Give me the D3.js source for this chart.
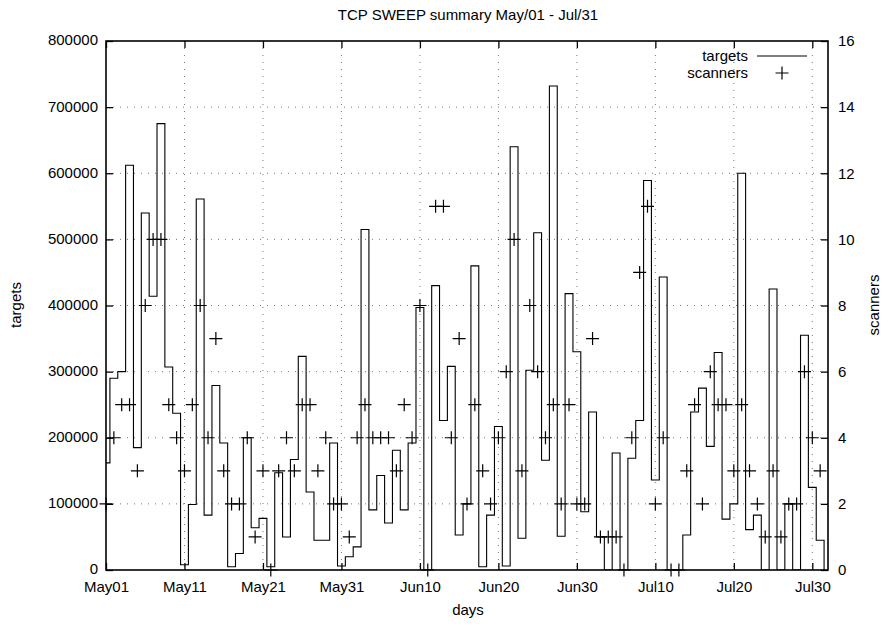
<!DOCTYPE html>
<html>
<head>
<meta charset="utf-8">
<script src="https://cdn.jsdelivr.net/npm/d3@7"></script>
<style>
body { margin: 0; background: #fff; }
</style>
</head>
<body>
<script>
// daily values, May01 (day 0) .. Jul31 (day 91)
var targets = [
  162000, 290000, 300000, 612000, 185000, 540000, 414000, 675000, 307000, 237000,
  8000, 99000, 561000, 83000, 279000, 192000, 5000, 25000, 200000, 64000,
  78000, 5000, 147000, 50000, 167000, 323000, 118000, 45000, 45000, 192000,
  6000, 20000, 35000, 515000, 91000, 143000, 71000, 181000, 91000, 192000,
  397000, 0, 430000, 226000, 308000, 53000, 100000, 460000, 5000, 83000,
  217000, 6000, 640000, 48000, 302000, 510000, 166000, 732000, 51000, 418000,
  330000, 88000, 239000, 50000, 0, 177000, 0, 169000, 226000, 589000,
  136000, 443000, 0, 0, 53000, 239000, 275000, 187000, 329000, 77000,
  100000, 600000, 61000, 83000, 0, 425000, 0, 100000, 0, 355000,
  125000, 45000
];
var scanners = [
  2, 4, 5, 5, 3, 8, 10, 10, 5, 4,
  3, 5, 8, 4, 7, 3, 2, 2, 4, 1,
  3, 0, 3, 4, 3, 5, 5, 3, 4, 2,
  2, 1, 4, 5, 4, 4, 4, 3, 5, 4,
  8, 0, 11, 11, 4, 7, 2, 5, 3, 2,
  4, 6, 10, 3, 8, 6, 4, 5, 2, 5,
  2, 2, 7, 1, 1, 1, 0, 4, 9, 11,
  2, 4, 0, 0, 3, 5, 2, 6, 5, 5,
  3, 5, 3, 2, 1, 3, 1, 2, 2, 6,
  4, 3
];
var tickDays = [0, 10, 20, 30, 40, 50, 60, 70, 80, 90];
var tickLabels = ["May01", "May11", "May21", "May31", "Jun10", "Jun20", "Jun30", "Jul10", "Jul20", "Jul30"];
var yTicks = [0, 100000, 200000, 300000, 400000, 500000, 600000, 700000, 800000];
var y2Ticks = [0, 2, 4, 6, 8, 10, 12, 14, 16];

var W = 891, H = 625;
var L = 106, R = 828, T = 41, B = 570;

var svg = d3.select("body").append("svg")
  .attr("width", W)
  .attr("height", H)
  .style("font-family", "'Liberation Sans', Arial, Helvetica, sans-serif")
  .style("font-size", "15px");

var x = d3.scaleLinear().domain([0, targets.length]).range([L, R]);
var y = d3.scaleLinear().domain([0, 800000]).range([B, T]);
var y2 = d3.scaleLinear().domain([0, 16]).range([B, T]);

// dotted grid (faint, like the scan)
var grid = svg.append("g")
  .attr("stroke", "#777")
  .attr("stroke-width", 1)
  .attr("stroke-dasharray", "1,6");
grid.selectAll(".gx").data(tickDays.slice(1)).enter().append("line")
  .attr("x1", d => x(d)).attr("x2", d => x(d))
  .attr("y1", T).attr("y2", B);
grid.selectAll(".gy").data(yTicks.slice(1, -1)).enter().append("line")
  .attr("x1", L).attr("x2", R)
  .attr("y1", d => y(d)).attr("y2", d => y(d));

// axes, ticks pointing inward like gnuplot
function styleAxis(g) {
  g.select(".domain").remove();
  g.selectAll(".tick line").attr("stroke", "#000").attr("stroke-width", 1.3);
  g.selectAll(".tick text").attr("fill", "#000").style("font-size", "15px")
    .style("font-family", "'Liberation Sans', Arial, Helvetica, sans-serif");
}

svg.append("g").attr("transform", "translate(" + L + ",0)")
  .call(d3.axisLeft(y).tickValues(yTicks).tickFormat(d3.format("d")).tickSize(-7).tickPadding(8))
  .call(styleAxis)
  .call(g => g.selectAll(".tick text").attr("dy", "0.26em"));

svg.append("g").attr("transform", "translate(" + R + ",0)")
  .call(d3.axisRight(y2).tickValues(y2Ticks).tickSize(-7).tickPadding(10))
  .call(styleAxis);

svg.append("g").attr("transform", "translate(0," + B + ")")
  .call(d3.axisBottom(x).tickValues(tickDays).tickFormat((d, i) => tickLabels[i]).tickSize(-7).tickPadding(11))
  .call(styleAxis);

svg.append("g").attr("transform", "translate(0," + T + ")")
  .call(d3.axisTop(x).tickValues(tickDays).tickFormat("").tickSize(-7))
  .call(styleAxis);

// targets as histeps
svg.append("clipPath").attr("id", "plotclip")
  .append("rect").attr("x", L).attr("y", T).attr("width", R - L).attr("height", B - T);

var steps = targets.map((v, i) => [i - 0.5, v]);
steps.push([targets.length - 0.5, 0]);

var stepLine = d3.line()
  .x(d => x(d[0]))
  .y(d => y(d[1]))
  .curve(d3.curveStepAfter);

svg.append("path")
  .datum(steps)
  .attr("clip-path", "url(#plotclip)")
  .attr("fill", "none")
  .attr("stroke", "#000")
  .attr("stroke-width", 1.1)
  .attr("d", stepLine);

// scanners as + marks
var plus = "M-6.5,0H6.5M0,-6.5V6.5";
svg.append("g").selectAll("path").data(scanners).enter().append("path")
  .attr("transform", (d, i) => "translate(" + x(i) + "," + y2(d) + ")")
  .attr("d", plus)
  .attr("stroke", "#000")
  .attr("stroke-width", 1.2)
  .attr("fill", "none");

// border
svg.append("rect")
  .attr("x", L).attr("y", T).attr("width", R - L).attr("height", B - T)
  .attr("fill", "none").attr("stroke", "#000").attr("stroke-width", 1.6);

// key
var key = svg.append("g");
key.append("text").attr("x", 748).attr("y", 61).attr("text-anchor", "end").text("targets");
key.append("line").attr("x1", 757).attr("x2", 807).attr("y1", 56).attr("y2", 56)
  .attr("stroke", "#000").attr("stroke-width", 1.1);
key.append("text").attr("x", 748).attr("y", 78).attr("text-anchor", "end").text("scanners");
key.append("path").attr("transform", "translate(782,73)").attr("d", plus)
  .attr("stroke", "#000").attr("stroke-width", 1.2);

// titles
svg.append("text").attr("x", 468).attr("y", 20).attr("text-anchor", "middle")
  .text("TCP SWEEP summary May/01 - Jul/31");
svg.append("text").attr("x", 468).attr("y", 615).attr("text-anchor", "middle").text("days");
svg.append("text").attr("transform", "translate(21,305) rotate(-90)")
  .attr("text-anchor", "middle").text("targets");
svg.append("text").attr("transform", "translate(879,305) rotate(-90)")
  .attr("text-anchor", "middle").text("scanners");
</script>
</body>
</html>
